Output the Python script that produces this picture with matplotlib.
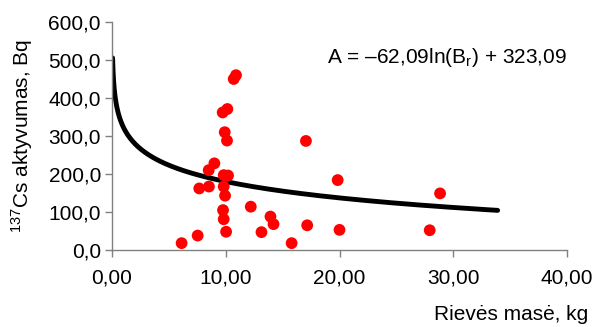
import numpy as np
import matplotlib
matplotlib.use("Agg")
import matplotlib.pyplot as plt

plt.rcParams['font.family'] = ['Liberation Sans', 'DejaVu Sans']
plt.rcParams['mathtext.fontset'] = 'custom'
plt.rcParams['mathtext.rm'] = 'Liberation Sans'
plt.rcParams['mathtext.it'] = 'Liberation Sans'

# Scatter data: tree mass (kg) vs 137Cs activity (Bq)
mass = [10.7, 10.9, 9.73, 10.14, 9.91, 10.11, 17.05, 9.0, 8.5, 9.82, 10.2,
        19.84, 7.67, 8.52, 9.82, 9.94, 12.2, 9.76, 9.82, 13.93, 14.2, 10.03,
        13.14, 17.16, 20.0, 7.53, 6.12, 15.79, 28.84, 27.93]
activity = [450, 460, 362, 371, 310, 288, 287, 228, 210, 197, 196,
            184, 162, 167, 167, 143, 114, 105, 81, 88, 68, 48,
            47, 65, 53, 38, 18, 18, 149, 52]

# Logarithmic fit coefficients
coef_a = -62.09
coef_b = 323.09
fit_range = [0.053, 33.9]

x_ticks = [0, 10, 20, 30, 40]
x_ticklabels = ["0,00", "10,00", "20,00", "30,00", "40,00"]
y_ticks = [0, 100, 200, 300, 400, 500, 600]
y_ticklabels = ["0,0", "100,0", "200,0", "300,0", "400,0", "500,0", "600,0"]

FS = 15

fig = plt.figure(figsize=(5.96, 3.27), dpi=100)
ax = fig.add_axes([112/596, 1 - 250/327, (567-112)/596, (250-22)/327])

xf = np.geomspace(fit_range[0], fit_range[1], 400)
ax.plot(xf, coef_a*np.log(xf) + coef_b, color='black', lw=3.5, zorder=2,
        solid_capstyle='round')
ax.scatter(mass, activity, s=72, color='#ff0000', edgecolors='none', zorder=3)

ax.set_xlim(0, 40)
ax.set_ylim(0, 600)
ax.set_xticks(x_ticks)
ax.set_xticklabels(x_ticklabels)
ax.set_yticks(y_ticks)
ax.set_yticklabels(y_ticklabels)
for s in ['top', 'right']:
    ax.spines[s].set_visible(False)
for s in ['left', 'bottom']:
    ax.spines[s].set_color('#808080')
    ax.spines[s].set_linewidth(1.0)
ax.tick_params(axis='both', direction='out', length=5, width=1.0,
               color='#808080', labelsize=FS, labelcolor='black')
ax.tick_params(axis='x', pad=8)
ax.tick_params(axis='y', pad=3)

ax.text(0.472, 0.845, r"A = –62,09ln(B$_\mathrm{r}$) + 323,09", transform=ax.transAxes,
        fontsize=FS, ha='left', va='center')

fig.text(588/596, 1 - 314/327, "Rievės masė, kg", fontsize=FS, ha='right', va='center')
fig.text(22/596, 1 - 136/327, r"$^{\mathrm{137}}$Cs aktyvumas, Bq", fontsize=FS,
         rotation=90, ha='center', va='center')

fig.savefig("out.png", dpi=100)
